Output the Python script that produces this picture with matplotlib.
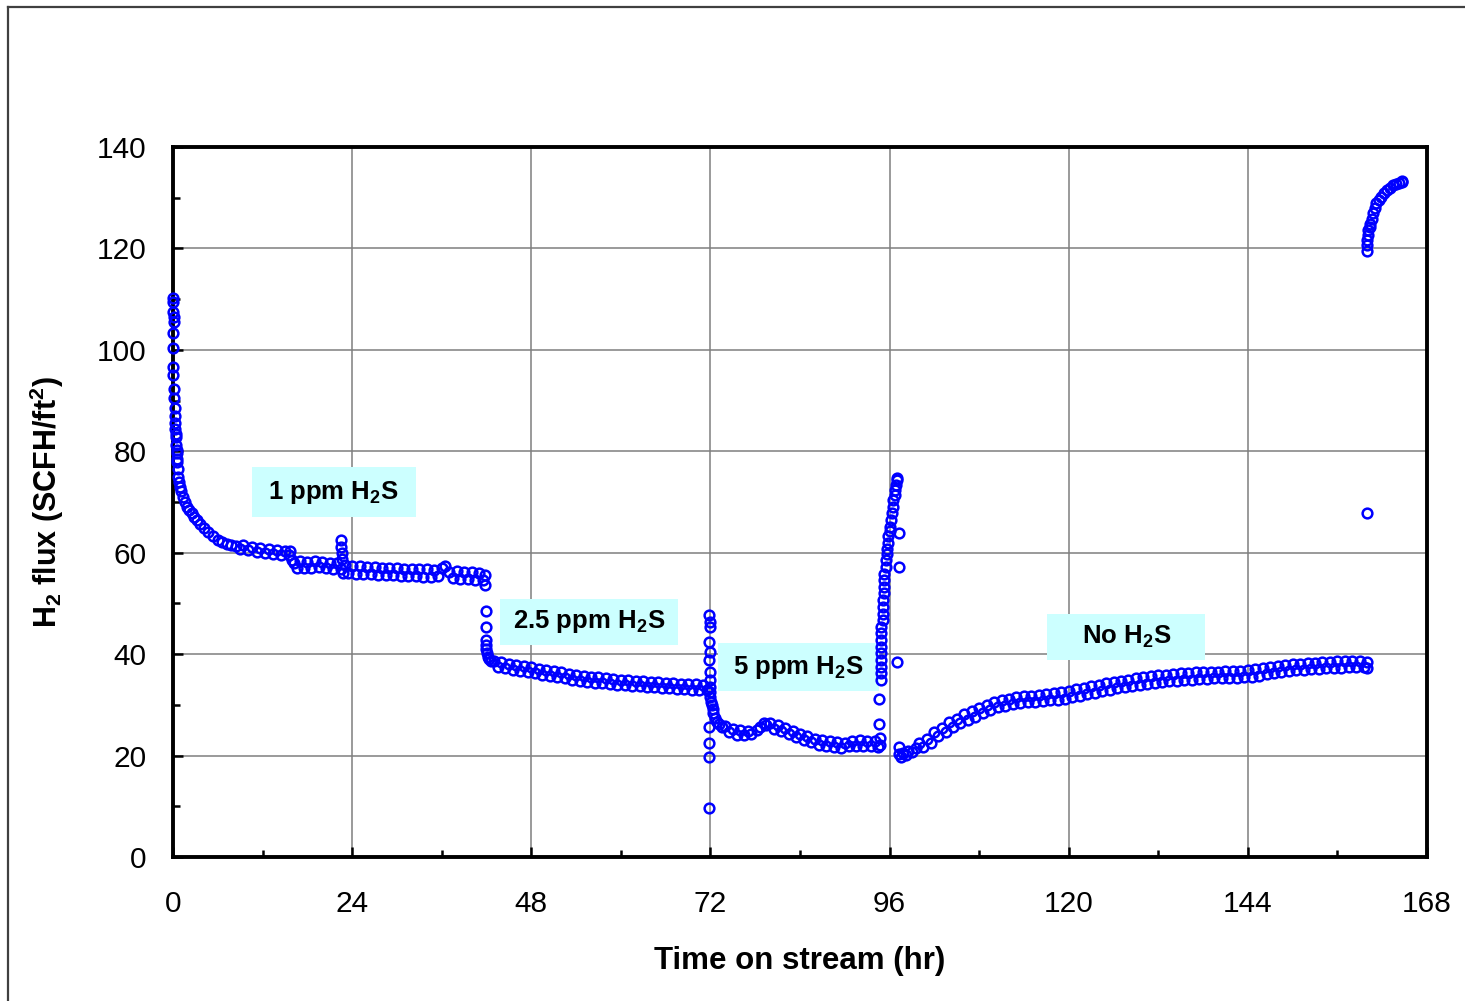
import matplotlib
matplotlib.use("Agg")
import matplotlib.pyplot as plt
from matplotlib.patches import Rectangle
from matplotlib.lines import Line2D
from matplotlib.ticker import MultipleLocator

plt.rcParams['font.family'] = ['Liberation Sans', 'DejaVu Sans']
plt.rcParams['mathtext.fontset'] = 'custom'
plt.rcParams['mathtext.rm'] = 'Liberation Sans'
plt.rcParams['mathtext.bf'] = 'Liberation Sans:bold'
plt.rcParams['mathtext.it'] = 'Liberation Sans:italic'

# ---------------- data ----------------
# 1 ppm H2S period
t_1ppm = [0.0, 0.05, 0.05, 0.08, 0.1, 0.05, 0.05, 0.05, 0.05, 0.1, 0.1, 0.27, 0.27, 0.3, 0.3,
          0.35, 0.4, 0.45, 0.5, 0.58, 0.6, 0.6, 0.65, 0.72, 0.8, 0.94, 1.1, 1.4, 1.6, 1.83,
          2.1, 2.5, 2.8, 3.2, 3.6, 4.1, 4.7, 5.4, 6.0, 6.6, 7.2, 7.8, 8.5, 9.0, 9.4, 10.0,
          10.6, 11.2, 11.7, 12.3, 12.8, 13.4, 13.9, 14.5, 15.0, 15.5, 15.7, 16.0, 16.2, 16.6,
          17.0, 17.5, 18.0, 18.5, 19.0, 19.5, 20.0, 20.5, 21.0, 21.5, 22.0, 22.5, 22.5, 22.5,
          22.6, 22.7, 22.8, 23.0, 23.5, 24.0, 24.5, 25.0, 25.5, 26.0, 26.5, 27.0, 27.5, 28.0,
          28.5, 29.0, 29.5, 30.0, 30.5, 31.0, 31.5, 32.0, 32.5, 33.0, 33.5, 34.0, 34.5, 35.0,
          35.5, 36.0, 36.5, 37.0, 37.5, 38.0, 38.5, 39.0, 39.5, 40.0, 40.5, 41.0, 41.5, 41.8,
          41.8]
f_1ppm = [110.2, 109.5, 107.4, 106.5, 105.4, 103.4, 100.4, 96.6, 95.0, 92.3, 90.5, 88.5, 86.9,
          85.6, 84.3, 83.5, 82.9, 81.2, 80.3, 79.6, 78.5, 77.9, 76.5, 75.0, 74.0, 73.0, 72.2,
          71.0, 70.0, 69.1, 68.5, 67.8, 67.0, 66.4, 65.6, 64.8, 64.0, 63.2, 62.6, 62.2, 61.8,
          61.5, 61.3, 60.7, 61.5, 60.5, 61.2, 60.2, 60.9, 60.0, 60.7, 59.8, 60.5, 59.6, 60.3,
          59.5, 60.4, 58.6, 57.9, 56.9, 58.3, 57.0, 58.2, 56.9, 58.3, 57.1, 58.2, 56.9, 58.0,
          56.8, 57.9, 56.7, 62.5, 61.2, 60.0, 58.8, 56.0, 57.5, 56.0, 57.4, 55.9, 57.3,
          55.9, 57.2, 55.8, 57.1, 55.7, 57.0, 55.6, 57.0, 55.6, 56.9, 55.5, 56.8, 55.5, 56.8,
          55.4, 56.7, 55.3, 56.7, 55.3, 56.6, 55.4, 56.9, 57.3, 56.2, 55.0, 56.3, 54.9, 56.2,
          54.8, 56.1, 54.7, 56.0, 54.7, 55.6, 53.6]

# 2.5 ppm H2S period
t_25ppm = [41.9, 41.9, 41.9, 42.0, 42.0, 42.1, 42.2, 42.4, 42.6, 43.0, 43.5, 44.0, 44.5, 45.0,
           45.5, 46.0, 46.5, 47.0, 47.5, 48.0, 48.5, 49.0, 49.5, 50.0, 50.5, 51.0, 51.5, 52.0,
           52.5, 53.0, 53.5, 54.0, 54.5, 55.0, 55.5, 56.0, 56.5, 57.0, 57.5, 58.0, 58.5, 59.0,
           59.5, 60.0, 60.5, 61.0, 61.5, 62.0, 62.5, 63.0, 63.5, 64.0, 64.5, 65.0, 65.5, 66.0,
           66.5, 67.0, 67.5, 68.0, 68.5, 69.0, 69.5, 70.0, 70.5, 71.0, 71.5]
f_25ppm = [48.6, 45.3, 42.8, 41.8, 41.0, 40.2, 39.5, 39.0, 38.6, 38.6, 37.5, 38.4, 37.2, 38.1,
           36.9, 37.9, 36.7, 37.6, 36.4, 37.4, 36.2, 37.1, 35.9, 36.9, 35.7, 36.6, 35.4, 36.4,
           35.2, 36.1, 35.0, 35.9, 34.8, 35.7, 34.6, 35.5, 34.4, 35.4, 34.3, 35.2, 34.1, 35.1,
           34.0, 35.0, 33.9, 34.9, 33.8, 34.8, 33.7, 34.7, 33.6, 34.6, 33.5, 34.5, 33.4, 34.4,
           33.3, 34.3, 33.2, 34.2, 33.1, 34.1, 33.0, 34.1, 33.0, 34.0, 33.0]

# 5 ppm H2S period (incl. transition at ~72 h and recovery at ~95-97 h)
t_5ppm = [71.85, 71.9, 71.9, 71.85, 71.9, 71.85, 71.9, 71.9, 72.0, 72.0, 72.0, 72.1, 72.2, 72.3,
          72.4, 72.6, 72.9, 73.2, 73.6, 74.0, 74.5, 75.0, 75.5, 76.0, 76.5, 77.0, 77.5, 78.2,
          78.7, 79.2, 79.5, 80.0, 80.5, 81.0, 81.5, 82.0, 82.5, 83.0, 83.5, 84.0, 84.5, 85.0,
          85.5, 86.0, 86.5, 87.0, 87.5, 88.0, 88.5, 89.0, 89.5, 90.0, 90.5, 91.0, 91.5, 92.0,
          92.5, 93.0, 93.5, 94.0, 94.5,
          71.85, 71.85, 71.85, 71.85,
          94.7, 94.7, 94.6, 94.6, 94.9, 94.9, 94.9, 94.9, 94.9, 94.9, 94.9, 94.9, 94.9, 95.1,
          95.1, 95.1, 95.1, 95.3, 95.3, 95.3, 95.3, 95.5, 95.5, 95.6, 95.6, 95.8, 95.8, 96.0,
          96.0, 96.2, 96.3, 96.4, 96.5, 96.7, 96.7, 96.9, 97.0, 97.0,
          97.2, 97.2, 97.0]
f_5ppm = [47.7, 46.4, 45.4, 42.4, 40.5, 38.8, 36.5, 34.9, 33.6, 32.5, 31.6, 30.5, 30.0, 29.2,
          28.4, 27.5, 26.7, 26.2, 25.7, 25.8, 24.6, 25.3, 24.1, 25.0, 24.0, 24.9, 24.2, 25.1,
          25.6, 26.4, 26.0, 26.5, 25.3, 26.1, 24.9, 25.5, 24.2, 24.9, 23.6, 24.3, 23.0, 23.8,
          22.6, 23.3, 22.1, 23.0, 21.8, 22.8, 21.6, 22.7, 21.5, 22.5, 21.8, 22.8, 21.9, 23.0,
          21.8, 22.9, 21.8, 22.8, 21.6,
          25.7, 22.4, 19.8, 9.6,
          22.1, 23.5, 26.3, 31.1, 34.9, 36.2, 37.5, 38.8, 40.2, 41.5, 42.8, 44.1, 45.4, 46.7,
          48.0, 49.3, 50.7, 52.0, 53.3, 54.6, 55.9, 57.2, 58.6, 59.7, 60.8, 62.0, 63.2, 64.2,
          65.1, 66.5, 67.8, 69.1, 70.4, 71.4, 72.4, 73.4, 74.3, 74.8,
          63.8, 57.1, 38.5]

# No H2S period
t_noH2S = [97.2, 97.3, 97.5, 97.8, 98.2, 98.5, 99.0, 99.5, 100.0, 100.5, 101.0, 101.5, 102.0,
           102.5, 103.0, 103.5, 104.0, 104.5, 105.0, 105.5, 106.0, 106.5, 107.0, 107.5, 108.0,
           108.5, 109.0, 109.5, 110.0, 110.5, 111.0, 111.5, 112.0, 112.5, 113.0, 113.5, 114.0,
           114.5, 115.0, 115.5, 116.0, 116.5, 117.0, 117.5, 118.0, 118.5, 119.0, 119.5, 120.0,
           120.5, 121.0, 121.5, 122.0, 122.5, 123.0, 123.5, 124.0, 124.5, 125.0, 125.5, 126.0,
           126.5, 127.0, 127.5, 128.0, 128.5, 129.0, 129.5, 130.0, 130.5, 131.0, 131.5, 132.0,
           132.5, 133.0, 133.5, 134.0, 134.5, 135.0, 135.5, 136.0, 136.5, 137.0, 137.5, 138.0,
           138.5, 139.0, 139.5, 140.0, 140.5, 141.0, 141.5, 142.0, 142.5, 143.0, 143.5, 144.0,
           144.5, 145.0, 145.5, 146.0, 146.5, 147.0, 147.5, 148.0, 148.5, 149.0, 149.5, 150.0,
           150.5, 151.0, 151.5, 152.0, 152.5, 153.0, 153.5, 154.0, 154.5, 155.0, 155.5, 156.0,
           156.5, 157.0, 157.5, 158.0, 158.5, 159.0, 159.5, 160.0, 160.0]
f_noH2S = [21.7, 20.4, 19.8, 20.6, 20.2, 21.0, 20.8, 21.5,
           22.5, 21.6, 23.2, 22.4, 24.6, 23.8, 25.5, 24.7, 26.6, 25.7, 27.3, 26.4, 28.1, 27.1,
           28.7, 27.7, 29.3, 28.4, 29.9, 29.0, 30.6, 29.5, 31.0, 29.8, 31.2, 30.1, 31.5, 30.3,
           31.7, 30.5, 31.8, 30.6, 32.0, 30.8, 32.1, 30.9, 32.3, 31.0, 32.5, 31.2, 32.8, 31.5,
           33.1, 31.8, 33.4, 32.1, 33.7, 32.4, 34.0, 32.7, 34.3, 33.0, 34.6, 33.3, 34.8, 33.6,
           35.0, 33.8, 35.2, 34.0, 35.4, 34.2, 35.6, 34.4, 35.8, 34.5, 35.9, 34.7, 36.1, 34.8,
           36.2, 34.9, 36.3, 35.0, 36.4, 35.1, 36.4, 35.1, 36.5, 35.2, 36.5, 35.2, 36.6, 35.3,
           36.7, 35.3, 36.7, 35.4, 36.8, 35.5, 37.0, 35.7, 37.2, 36.0, 37.5, 36.2, 37.7, 36.4,
           37.9, 36.6, 38.0, 36.8, 38.1, 36.9, 38.2, 37.0, 38.3, 37.1, 38.4, 37.2, 38.5, 37.3,
           38.6, 37.3, 38.6, 37.4, 38.7, 37.4, 38.7, 37.5, 37.3, 38.4]

# Final period (after ~160 h)
t_final = [160.0, 160.0, 160.0, 160.0, 160.1, 160.1, 160.3, 160.3, 160.6, 160.7, 161.0, 161.2,
           161.6, 161.9, 162.3, 162.6, 163.0, 163.5, 163.9, 164.3, 164.6, 164.7]
f_final = [67.8, 119.4, 120.6, 121.7, 122.7, 123.6, 124.3, 124.9, 125.9, 126.9, 127.9, 128.9,
           129.6, 130.2, 130.9, 131.5, 132.0, 132.5, 132.8, 133.0, 133.1, 133.3]

x_ticks = [0, 24, 48, 72, 96, 120, 144, 168]
y_ticks = [0, 20, 40, 60, 80, 100, 120, 140]

labels = ["1 ppm H$_\\mathbf{2}$S", "2.5 ppm H$_\\mathbf{2}$S",
          "5 ppm H$_\\mathbf{2}$S", "No H$_\\mathbf{2}$S"]
# label boxes: (left, right, bottom, top) in data units
label_boxes = [(10.6, 32.5, 67.0, 76.9),
               (43.8, 67.7, 41.8, 50.9),
               (73.0, 94.6, 32.7, 42.2),
               (117.1, 138.3, 38.8, 47.9)]

# ---------------- figure ----------------
fig = plt.figure(figsize=(14.65, 10.01), dpi=100)
ax = fig.add_axes([173 / 1465, 1 - 857 / 1001, (1427 - 173) / 1465, (857 - 147) / 1001])

# outer frame lines (top and left)
fig.add_artist(Line2D([8 / 1465, 8 / 1465], [0, 1 - 7 / 1001], transform=fig.transFigure,
                      color='#404040', lw=1.6))
fig.add_artist(Line2D([8 / 1465, 1], [1 - 7 / 1001, 1 - 7 / 1001], transform=fig.transFigure,
                      color='#404040', lw=1.6))

marker_kw = dict(ls='none', marker='o', ms=7.0, mfc='none', mec='#0000FF', mew=1.8, zorder=3,
                 clip_on=False)
for t, f in [(t_1ppm, f_1ppm), (t_25ppm, f_25ppm), (t_5ppm, f_5ppm),
             (t_noH2S, f_noH2S), (t_final, f_final)]:
    ax.plot(t, f, **marker_kw)

for (x0, x1, y0, y1), lab in zip(label_boxes, labels):
    ax.add_patch(Rectangle((x0, y0), x1 - x0, y1 - y0, facecolor='#CCFFFF',
                           edgecolor='none', zorder=1))
    ax.text((x0 + x1) / 2, (y0 + y1) / 2, lab, ha='center', va='center',
            fontsize=18.5, fontweight='bold', zorder=2)

ax.set_xlim(0, 168)
ax.set_ylim(0, 140)
ax.set_xticks(x_ticks)
ax.set_yticks(y_ticks)
ax.xaxis.set_minor_locator(MultipleLocator(12))
ax.yaxis.set_minor_locator(MultipleLocator(10))
ax.grid(True, which='major', color='#7f7f7f', lw=1.1, zorder=0)
ax.set_axisbelow(True)

ax.tick_params(axis='both', which='major', direction='in', length=7, width=1.8,
               labelsize=21.5, color='black')
ax.tick_params(axis='both', which='minor', direction='in', length=5, width=1.8, color='black')
ax.tick_params(axis='x', which='major', pad=24)
ax.tick_params(axis='y', which='major', pad=19)

for s in ax.spines.values():
    s.set_linewidth(2.8)
    s.set_color('black')

ax.set_xlabel("Time on stream (hr)", fontsize=22.5, fontweight='bold', labelpad=20)
ax.set_ylabel("H$_\\mathbf{2}$ flux (SCFH/ft$^\\mathbf{2}$)", fontsize=22, fontweight='bold',
              labelpad=22)

fig.savefig("out.png", dpi=100)
